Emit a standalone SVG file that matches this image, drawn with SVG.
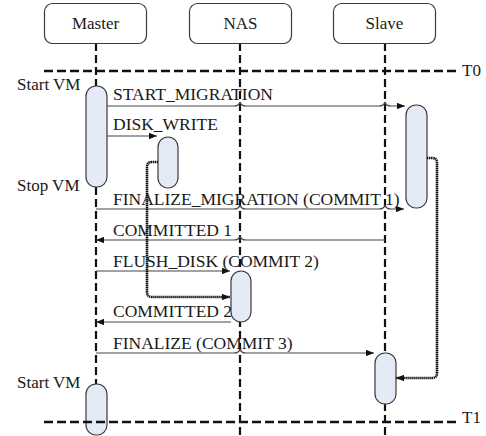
<svg xmlns="http://www.w3.org/2000/svg" width="486" height="436" viewBox="0 0 486 436">
  <style>
    .lbl { font-family: "Liberation Serif", "Times New Roman", serif; font-size: 17px; fill: #1a1a1a; }
    .m { font-size: 17.5px; }
    .mid { text-anchor: middle; }
    .head { fill: #ffffff; stroke: #3a3a3a; stroke-width: 1.2; }
    .life { fill: none; stroke: #111; stroke-width: 2.2; stroke-dasharray: 8 4; }
    .time { fill: none; stroke: #111; stroke-width: 2.4; stroke-dasharray: 9 4; }
    .act { fill: #e4ebf7; stroke: #3a3a3a; stroke-width: 1.2; }
    .msg { fill: none; stroke: #444; stroke-width: 1.1; marker-end: url(#ah); }
    .dot { fill: none; stroke: #111; stroke-width: 2.6; stroke-dasharray: 1.4 0.6; marker-end: url(#ah); }
  </style>
  <defs>
    <marker id="ah" viewBox="0 0 10 8" refX="10" refY="4" markerWidth="8" markerHeight="6.4" markerUnits="userSpaceOnUse" orient="auto">
      <path d="M0,0 L10,4 L0,8 z" fill="#111"/>
    </marker>
  </defs>

  <!-- lifelines -->
  <g id="lifelines">
    <line class="life" x1="96" y1="43" x2="96" y2="436"/>
    <line class="life" x1="240" y1="43" x2="240" y2="436"/>
    <line class="life" x1="385" y1="43" x2="385" y2="436"/>
  </g>

  <!-- participants -->
  <g id="master">
    <rect class="head" x="44.5" y="3.5" width="102" height="40" rx="8"/>
    <text class="lbl mid" x="95.5" y="29">Master</text>
  </g>
  <g id="nas">
    <rect class="head" x="189.5" y="3.5" width="102" height="40" rx="8"/>
    <text class="lbl mid" x="240.5" y="29">NAS</text>
  </g>
  <g id="slave">
    <rect class="head" x="333.5" y="3.5" width="102" height="40" rx="8"/>
    <text class="lbl mid" x="384.5" y="29">Slave</text>
  </g>

  <!-- activations -->
  <g id="master-run-1"><rect class="act" x="86" y="86" width="21" height="101" rx="10"/></g>
  <g id="nas-write"><rect class="act" x="158" y="137" width="20" height="51" rx="10"/></g>
  <g id="nas-flush"><rect class="act" x="231" y="271" width="20" height="51" rx="10"/></g>
  <g id="slave-sync"><rect class="act" x="406" y="105" width="21" height="103" rx="10"/></g>
  <g id="slave-final"><rect class="act" x="375" y="353" width="21" height="51" rx="10"/></g>
  <g id="master-run-2"><rect class="act" x="86" y="384" width="21" height="51" rx="10"/></g>

  <!-- side notes -->
  <text class="lbl" x="17" y="90">Start VM</text>
  <text class="lbl" x="17" y="191">Stop VM</text>
  <text class="lbl" x="17" y="388">Start VM</text>

  <!-- messages -->
  <g id="connectors">
    <path class="msg" d="M107,106 H234 Q239,106 240,102 Q241,106 246,106 H379 Q384,106 385,102 Q386,106 391,106 H405"/>
    <path class="msg" d="M107,136 H157"/>
    <path class="msg" d="M96,209 H234 Q239,209 240,205 Q241,209 246,209 H379 Q384,209 385,205 Q386,209 391,209 H404"/>
    <path class="msg" d="M385,240 H246 Q241,240 240,236 Q239,240 234,240 H96"/>
    <path class="msg" d="M96,271 H230"/>
    <path class="msg" d="M231,322 H96"/>
    <path class="msg" d="M96,353 H234 Q239,353 240,349 Q241,353 246,353 H374"/>
    <path class="dot" d="M158,162 H152 Q147,162 147,167 V292 Q147,297 152,297 H230"/>
    <path class="dot" d="M427,158 H432 Q437,158 437,163 V373 Q437,378 432,378 H396"/>
  </g>

  <!-- message labels -->
  <text class="lbl m" x="113" y="100">START_MIGRATION</text>
  <text class="lbl m" x="113" y="130">DISK_WRITE</text>
  <text class="lbl m" x="113" y="205">FINALIZE_MIGRATION (COMMIT 1)</text>
  <text class="lbl m" x="113" y="236">COMMITTED 1</text>
  <text class="lbl m" x="113" y="267">FLUSH_DISK (COMMIT 2)</text>
  <text class="lbl m" x="113" y="317">COMMITTED 2</text>
  <text class="lbl m" x="113" y="349">FINALIZE (COMMIT 3)</text>

  <!-- time marks -->
  <g id="t0">
    <line class="time" x1="44" y1="71" x2="460" y2="71"/>
    <text class="lbl" x="462" y="76">T0</text>
  </g>
  <g id="t1">
    <line class="time" x1="44" y1="422" x2="460" y2="422"/>
    <text class="lbl" x="462" y="423">T1</text>
  </g>
</svg>
